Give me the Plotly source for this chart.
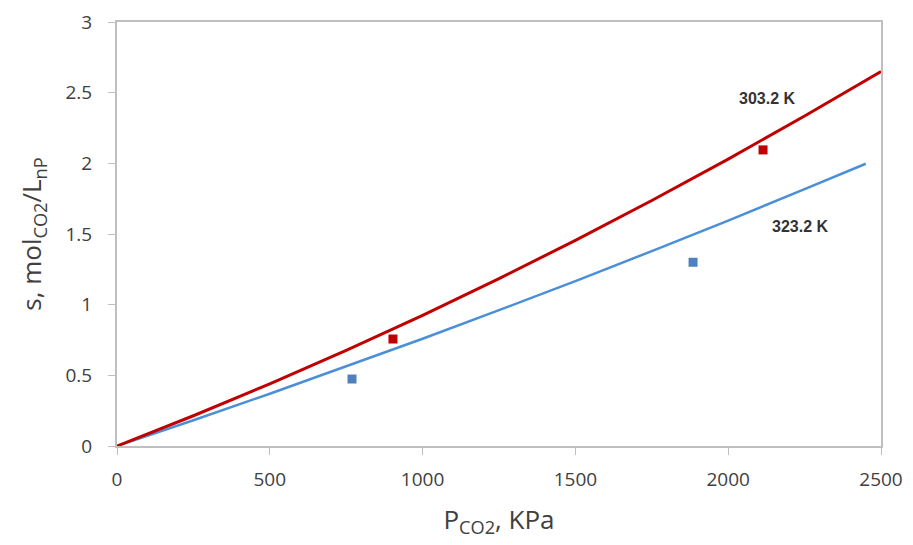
import plotly.graph_objects as go

# Model curves
p_303 = [0, 250, 500, 750, 1000, 1250, 1500, 1750, 2000, 2250, 2500]
s_303 = [0, 0.214, 0.44, 0.676, 0.925, 1.184, 1.455, 1.737, 2.03, 2.335, 2.65]
p_323 = [0, 250, 500, 750, 1000, 1250, 1500, 1750, 2000, 2250, 2450]
s_323 = [0, 0.182, 0.37, 0.562, 0.759, 0.961, 1.167, 1.379, 1.595, 1.817, 1.997]

# Experimental points
exp_p_303 = [903, 2114]
exp_s_303 = [0.757, 2.095]
exp_p_323 = [769, 1885]
exp_s_323 = [0.474, 1.30]

labels = ["303.2 K", "323.2 K"]
label_x = [2126, 2235]
label_y = [2.46, 1.55]

red = "#c00000"
blue = "#4a8fd8"

fig = go.Figure()
fig.add_trace(go.Scatter(x=p_323, y=s_323, mode="lines", line=dict(color=blue, width=2.5), showlegend=False))
fig.add_trace(go.Scatter(x=p_303, y=s_303, mode="lines", line=dict(color=red, width=3), showlegend=False))
fig.add_trace(go.Scatter(x=exp_p_323, y=exp_s_323, mode="markers",
                         marker=dict(symbol="square", size=9, color="#4f81bd"), showlegend=False))
fig.add_trace(go.Scatter(x=exp_p_303, y=exp_s_303, mode="markers",
                         marker=dict(symbol="square", size=9, color=red), showlegend=False))

for t, xx, yy in zip(labels, label_x, label_y):
    fig.add_annotation(x=xx, y=yy, text="<b>" + t + "</b>", showarrow=False,
                       font=dict(family="Liberation Sans, Arial", size=16, color="#333333"))

axis_common = dict(showgrid=False, zeroline=False, showline=True, linecolor="#bfbfbf", linewidth=2,
                   mirror=True, ticks="outside", tickcolor="#bfbfbf", ticklen=7, automargin=False,
                   tickfont=dict(family="Open Sans, Liberation Sans", size=19, color="#404040"))

title_font = dict(family="Open Sans, Liberation Sans", size=26, color="#404040")

fig.update_layout(
    width=905, height=537,
    margin=dict(l=109, r=32, t=14, b=99, autoexpand=False),
    paper_bgcolor="white", plot_bgcolor="white",
    xaxis=dict(range=[0, 2500], dtick=500, ticklabelstandoff=8, **axis_common,
               title=dict(text="P<sub>CO2</sub>, KPa", standoff=20, font=title_font)),
    yaxis=dict(range=[0, 3], dtick=0.5, ticklabelstandoff=12, **axis_common,
               title=dict(text="s, mol<sub>CO2</sub>/L<sub>nP</sub>", standoff=16, font=title_font)),
)

fig.write_html("out.html")
